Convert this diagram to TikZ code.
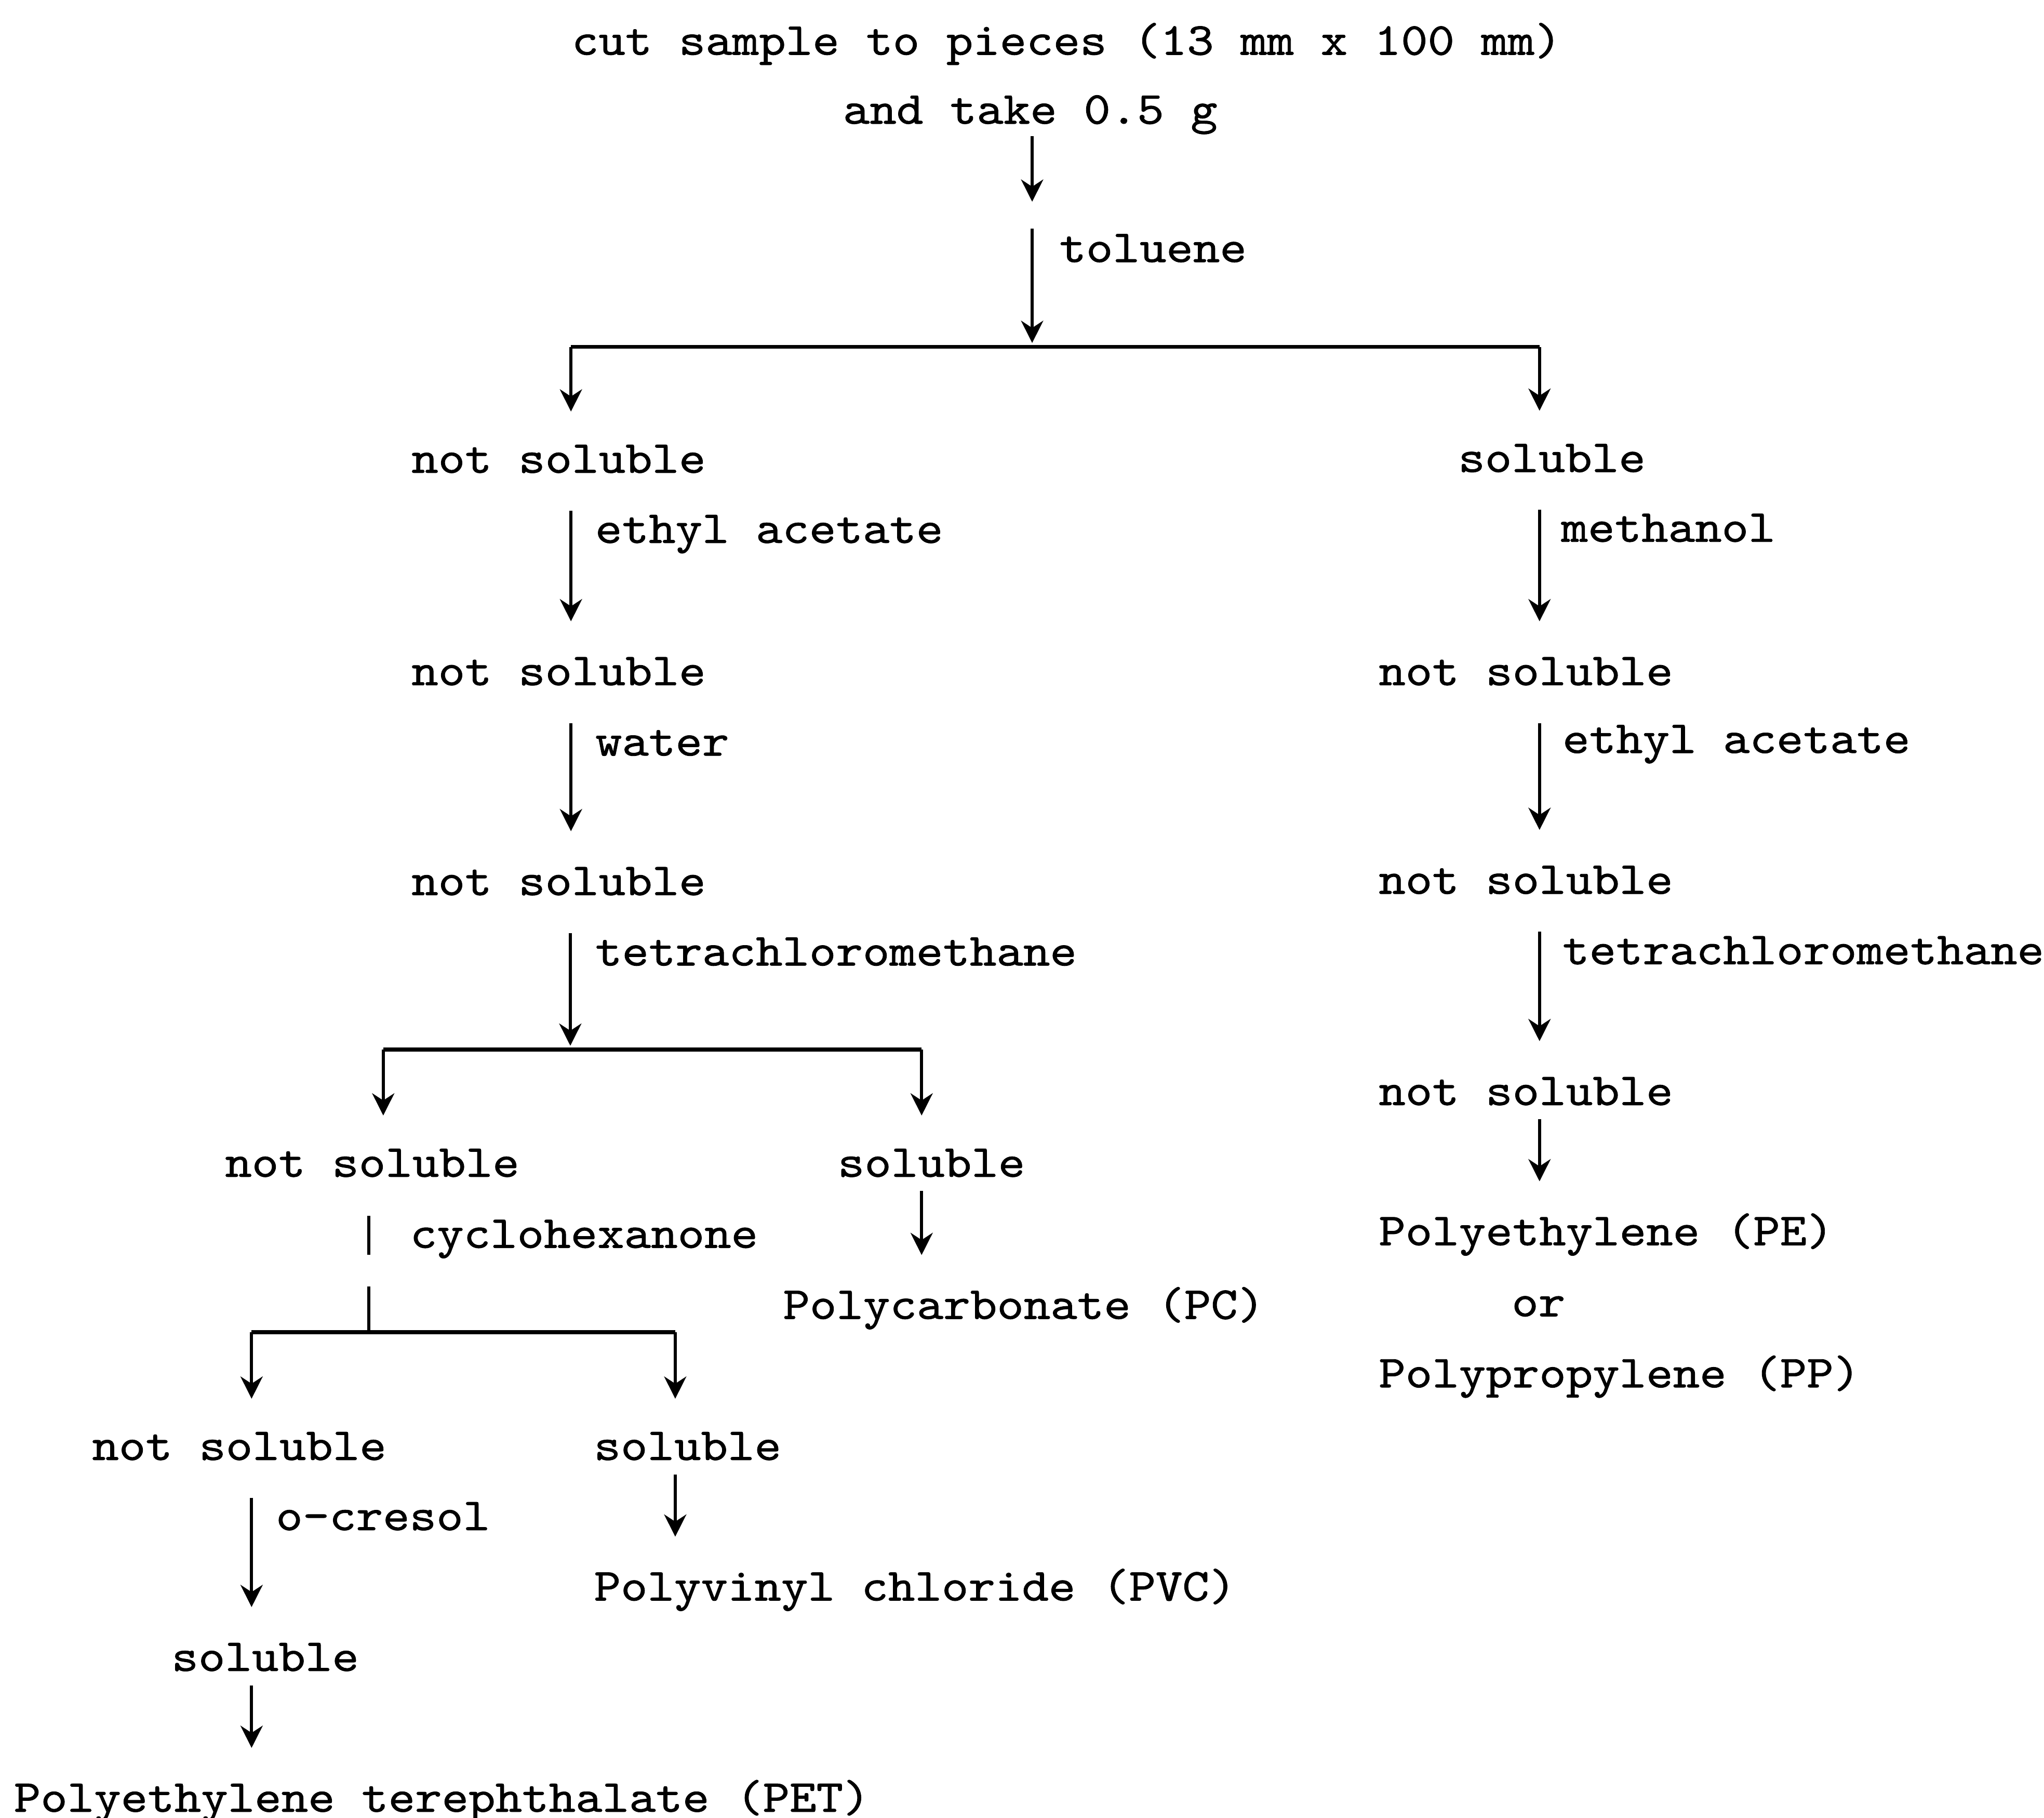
\documentclass[tikz,border=0pt]{standalone}
\usepackage{fontspec}
\newfontfamily\flowfont{lmmono10-regular.otf}[FakeStretch=1.112,FakeBold=1]
\usetikzlibrary{arrows.meta,calc}

\tikzset{
  txt/.style={anchor=base west, inner sep=0pt, font=\flowfont\fontsize{10pt}{12pt}\selectfont},
  arr/.style={-{Stealth[length=1.7mm,width=1.7mm,inset=0.55mm]}, line width=0.7pt},
  solv/.style={arr, shorten <=2.9mm, shorten >=4.9mm},
  link/.style={arr, shorten <=1.1mm, shorten >=4.9mm},
  drop/.style={arr, shorten >=4.7mm},
  bar/.style={line width=0.9pt, line cap=square}
}

\begin{document}
\begin{tikzpicture}[x=0.1mm, y=-0.1mm]
        \useasboundingbox (0,0) rectangle (1568,1394);

        % Sample
        \node[txt] (cut) at (438,42) {cut sample to pieces (13 mm x 100 mm)};
        \node[txt] (take) at (646,94.9) {and take 0.5 g};

        % Toluene split
        \coordinate (cM) at (791.8,0);
        \coordinate (m1) at (791.8,175.3);
        \coordinate (j1) at (791.8,266);
        \coordinate (j1l) at (438,266);
        \coordinate (j1r) at (1181,266);
        \node[txt] (tol) at (812,201) {toluene};
        \draw[arr, shorten <=0.95mm, shorten >=2.06mm] (take.base -| cM) -- (m1);
        \draw[arr, shorten >=0.3mm] (m1) -- (j1);
        \draw[bar] (j1l) -- (j1r);

        % Left column
        \node[txt] (l1) at (315,362.6) {not soluble};
        \node[txt] (ea1) at (456,416.4) {ethyl acetate};
        \node[txt] (l2) at (315,525.5) {not soluble};
        \node[txt] (wat) at (456,579.5) {water};
        \node[txt] (l3) at (315,686.5) {not soluble};
        \node[txt] (tc1) at (456,740.5) {tetrachloromethane};
        \draw[drop] (j1l) -- (l1.base -| j1l);
        \draw[solv] (l1.base -| j1l) -- (l2.base -| j1l);
        \draw[solv] (l2.base -| j1l) -- (l3.base -| j1l);

        % Tetrachloromethane split
        \coordinate (j2) at (437.5,805);
        \coordinate (j2l) at (294,805);
        \coordinate (j2r) at (707,805);
        \draw[arr, shorten <=2.9mm, shorten >=0.3mm] (l3.base -| j2) -- (j2);
        \draw[bar] (j2l) -- (j2r);
        \node[txt] (l4) at (172,902.5) {not soluble};
        \node[txt] (m4) at (642,902.5) {soluble};
        \draw[drop] (j2l) -- (l4.base -| j2l);
        \draw[drop] (j2r) -- (m4.base -| j2r);
        \node[txt] (pc) at (600,1011.5) {Polycarbonate (PC)};
        \draw[link] (m4.base -| j2r) -- (pc.base -| j2r);

        % Cyclohexanone split
        \coordinate (b1) at (283,962.3);
        \coordinate (b2) at (283,986.6);
        \coordinate (j3) at (283,1021.8);
        \coordinate (j3l) at (193,1021.8);
        \coordinate (j3r) at (518,1021.8);
        \node[txt] (cyc) at (314,957) {cyclohexanone};
        \draw[line width=0.7pt, shorten <=3mm] (l4.base -| j3) -- (b1);
        \draw[line width=0.7pt] (b2) -- (j3);
        \draw[bar] (j3l) -- (j3r);
        \node[txt] (l5) at (70,1119.7) {not soluble};
        \node[txt] (m5) at (455,1119.7) {soluble};
        \draw[drop] (j3l) -- (l5.base -| j3l);
        \draw[drop] (j3r) -- (m5.base -| j3r);

        % o-cresol
        \node[txt] (ocr) at (211,1173.5) {o-cresol};
        \node[txt] (l6) at (131,1281.5) {soluble};
        \node[txt] (pet) at (10,1389.5) {Polyethylene terephthalate (PET)};
        \draw[solv] (l5.base -| j3l) -- (l6.base -| j3l);
        \draw[link] (l6.base -| j3l) -- (pet.base -| j3l);
        \node[txt] (pvc) at (455,1227.5) {Polyvinyl chloride (PVC)};
        \draw[link] (m5.base -| j3r) -- (pvc.base -| j3r);

        % Right column
        \node[txt] (r1) at (1118,362) {soluble};
        \node[txt] (meth) at (1197,415.5) {methanol};
        \node[txt] (r2) at (1057,525.5) {not soluble};
        \node[txt] (ea2) at (1198,577.5) {ethyl acetate};
        \node[txt] (r3) at (1057,685.5) {not soluble};
        \node[txt] (tc2) at (1198,739.5) {tetrachloromethane};
        \node[txt] (r4) at (1057,847.5) {not soluble};
        \node[txt] (pe) at (1057,955) {Polyethylene (PE)};
        \node[txt] (or) at (1159,1009.5) {or};
        \node[txt] (pp) at (1057,1064) {Polypropylene (PP)};
        \draw[drop] (j1r) -- (r1.base -| j1r);
        \draw[solv] (r1.base -| j1r) -- (r2.base -| j1r);
        \draw[solv] (r2.base -| j1r) -- (r3.base -| j1r);
        \draw[solv] (r3.base -| j1r) -- (r4.base -| j1r);
        \draw[link] (r4.base -| j1r) -- (pe.base -| j1r);
\end{tikzpicture}
\end{document}
